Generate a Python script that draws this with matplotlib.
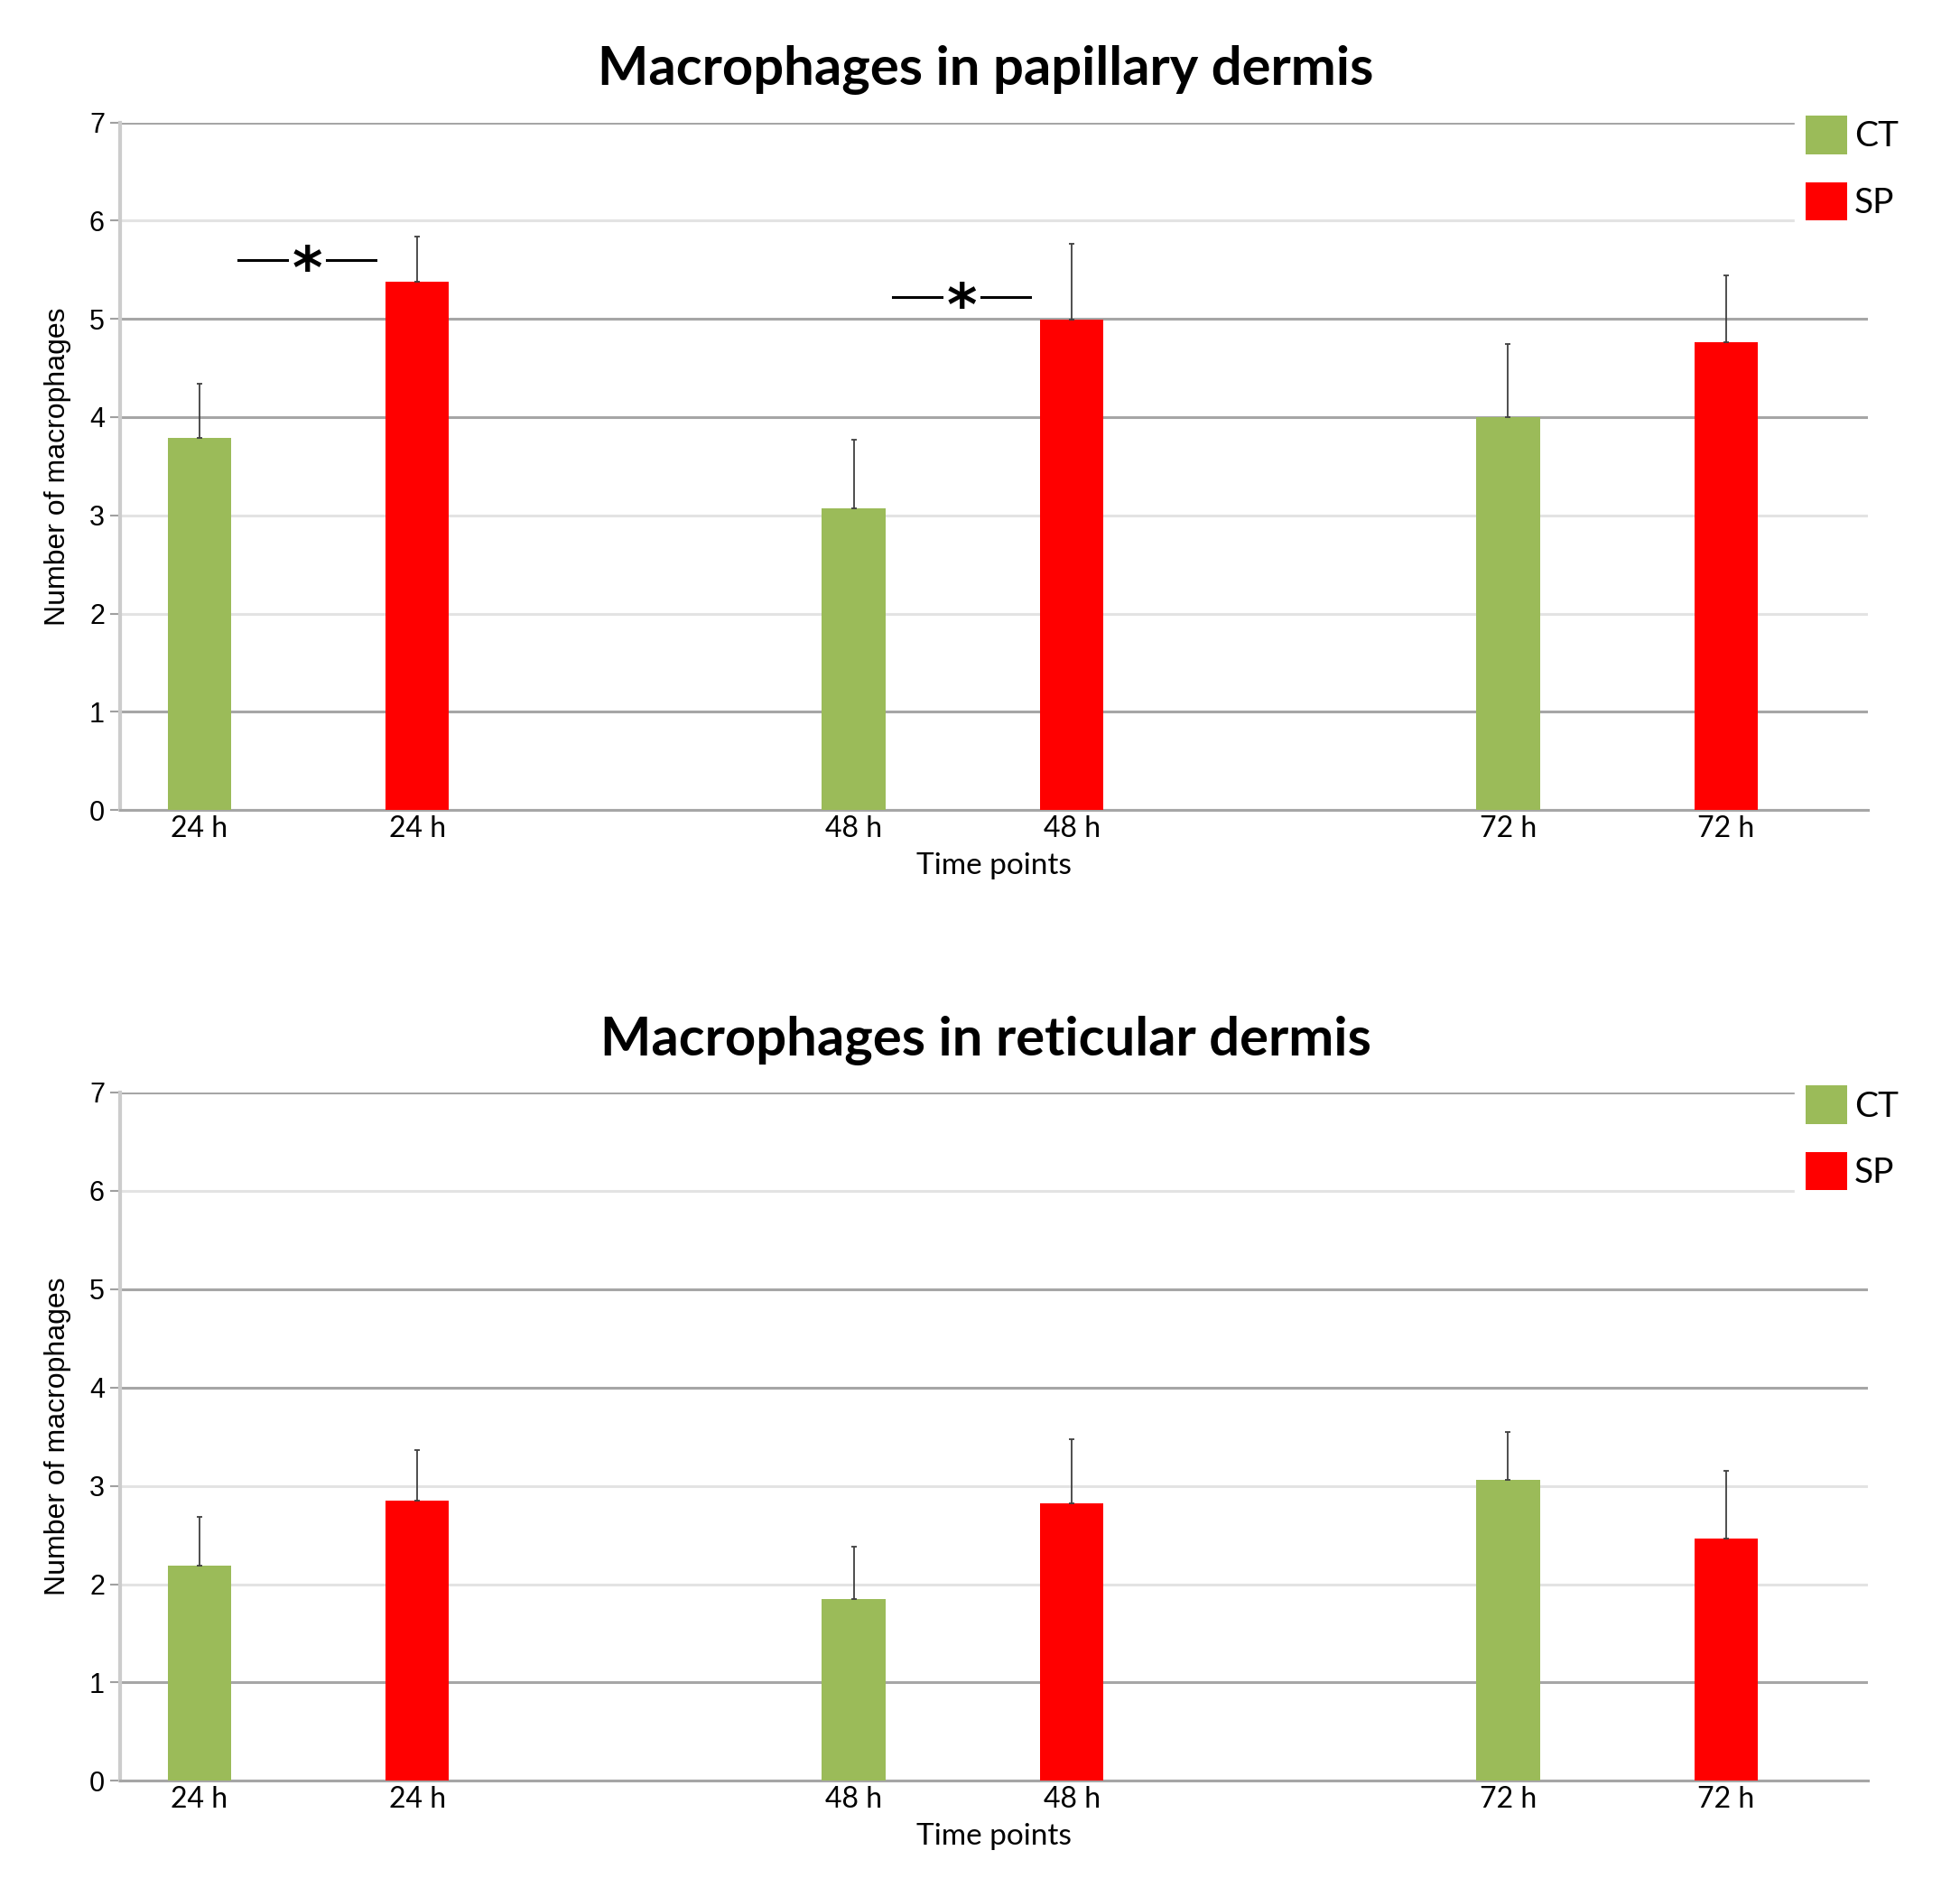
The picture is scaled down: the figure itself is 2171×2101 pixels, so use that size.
import matplotlib
matplotlib.use("Agg")
from matplotlib import pyplot as plt
from matplotlib.patches import Patch

# bar order: CT 24h, SP 24h, CT 48h, SP 48h, CT 72h, SP 72h
tick_labels = ['24 h', '24 h', '48 h', '48 h', '72 h', '72 h']
groups = ['CT', 'SP', 'CT', 'SP', 'CT', 'SP']
slots = [0, 1, 3, 4, 6, 7]

papillary_mean = [3.79, 5.38, 3.07, 4.99, 4.00, 4.76]
papillary_err = [0.55, 0.46, 0.70, 0.77, 0.74, 0.68]

reticular_mean = [2.19, 2.85, 1.85, 2.82, 3.06, 2.46]
reticular_err = [0.49, 0.51, 0.53, 0.65, 0.49, 0.69]

# significance marks (papillary only): CT slot, SP slot, height
sig_pairs = [(0, 1, 5.6), (3, 4, 5.22)]

colors = {'CT': '#9bbb59', 'SP': '#ff0000'}
dark_grid = '#a6a6a6'
light_grid = '#e3e3e3'
grid_cols = [dark_grid, dark_grid, light_grid, light_grid, dark_grid, dark_grid, light_grid, dark_grid]

W, H = 2171, 2101
fig = plt.figure(figsize=(W / 100, H / 100), dpi=100)


def draw(ax, means, errs, sigs):
    cols = [colors[g] for g in groups]
    ax.bar(slots, means, width=0.29, color=cols, zorder=3)
    ax.errorbar(slots, means, yerr=[[0] * len(errs), errs], fmt='none',
                ecolor='#404040', elinewidth=1.3, capsize=2, capthick=1.3, zorder=4)
    ax.set_xlim(-0.364, 7.65)
    ax.set_ylim(0, 7)
    ax.set_yticks(range(8))
    ax.set_xticks(slots)
    ax.set_xticklabels(tick_labels, fontsize=23, family='Lato')
    for lab in ax.get_yticklabels():
        lab.set_fontsize(22)
        lab.set_family('Liberation Sans')
    ax.tick_params(axis='x', length=0, pad=4)
    ax.tick_params(axis='y', length=8, width=1.5, color='#a0a0a0', pad=4)
    ax.yaxis.grid(True, linewidth=2.2, zorder=0)
    for line, c in zip(ax.yaxis.get_gridlines(), grid_cols):
        line.set_color(c)
    ax.set_axisbelow(True)
    for s in ['top', 'right']:
        ax.spines[s].set_visible(False)
    ax.spines['left'].set_color('#cccccc')
    ax.spines['left'].set_linewidth(3)
    ax.spines['bottom'].set_color('#a6a6a6')
    ax.spines['bottom'].set_linewidth(2.2)
    ax.set_ylabel('Number of macrophages', fontsize=23, family='Liberation Sans', labelpad=14)
    ax.set_xlabel('Time points', fontsize=24, family='Lato', labelpad=8)

    for a, b, h in sigs:
        left = a + 0.18
        right = b - 0.19
        mid = (left + right) / 2
        ax.plot([left, mid - 0.09], [h, h], color='black', lw=2.2, zorder=5)
        ax.plot([mid + 0.09, right], [h, h], color='black', lw=2.2, zorder=5)
        ax.text(mid, h - 0.12, '*', ha='center', va='center', fontsize=46,
                fontweight='bold', family='DejaVu Sans', zorder=5)

    handles = [Patch(facecolor=colors['CT']), Patch(facecolor=colors['SP'])]
    leg = ax.legend(handles, ['CT', 'SP'], loc='upper left', bbox_to_anchor=(0.958, 1.025),
                    frameon=True, fancybox=False, facecolor='white', edgecolor='white',
                    framealpha=1, prop={'family': 'Lato', 'size': 28},
                    handlelength=1.2, handleheight=1.3, handletextpad=0.2,
                    labelspacing=0.8, borderpad=0.3, borderaxespad=0)
    leg.set_zorder(6)


ax1 = fig.add_axes([0.0611, 0.573, 0.892, 0.3625])
draw(ax1, papillary_mean, papillary_err, sig_pairs)
fig.text(0.503, 0.963, 'Macrophages in papillary dermis', ha='center', va='center',
         fontsize=43, fontweight='bold', family='Lato')

ax2 = fig.add_axes([0.0611, 0.0612, 0.892, 0.363])
draw(ax2, reticular_mean, reticular_err, [])
fig.text(0.503, 0.4515, 'Macrophages in reticular dermis', ha='center', va='center',
         fontsize=43, fontweight='bold', family='Lato')

fig.savefig('out.png', dpi=100, facecolor='white')
